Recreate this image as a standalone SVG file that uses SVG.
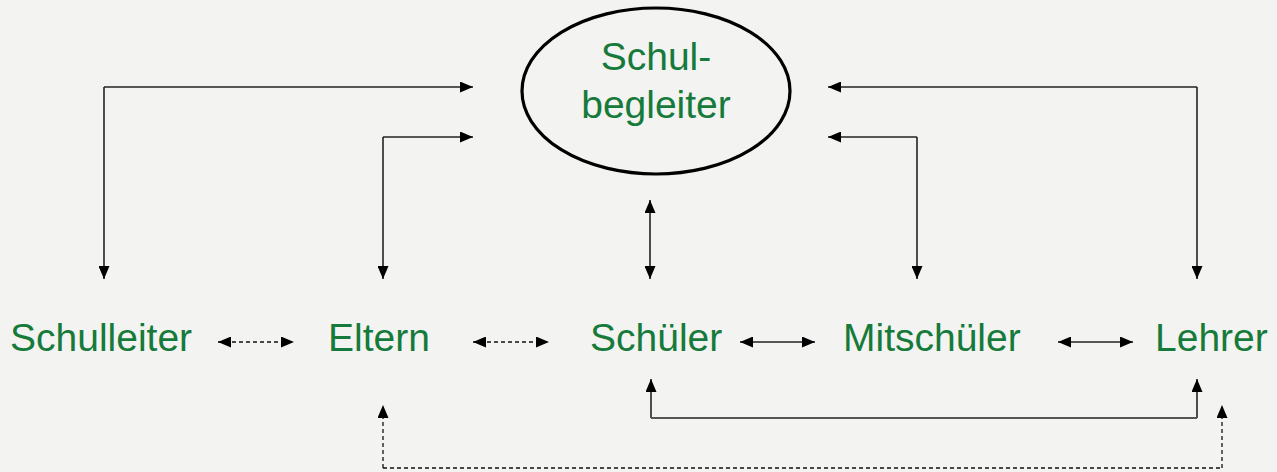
<svg xmlns="http://www.w3.org/2000/svg" width="1277" height="472" viewBox="0 0 1277 472">
  <defs>
    <marker id="ah" markerUnits="userSpaceOnUse" markerWidth="13" markerHeight="11" refX="13" refY="5.5" orient="auto-start-reverse">
      <path d="M0,0 L13,5.5 L0,11 z" fill="#000"/>
    </marker>
  </defs>
  <style>
    .lbl { font-family: "Liberation Sans", Arial, sans-serif; font-size: 39px; fill: #157a3a; }
    .c { fill: none; stroke: #222; stroke-width: 1.6; }
    .d { fill: none; stroke: #111; stroke-width: 1.3; stroke-dasharray: 4 3; }
  </style>
  <rect width="1277" height="472" fill="#f3f3f1"/>

  <g id="connectors">
    <path class="c" d="M104,87 H473" marker-end="url(#ah)"/>
    <path class="c" d="M104,87 V279" marker-end="url(#ah)"/>
    <path class="c" d="M383,137 H473" marker-end="url(#ah)"/>
    <path class="c" d="M383,137 V279" marker-end="url(#ah)"/>
    <path class="c" d="M1197,87 H828" marker-end="url(#ah)"/>
    <path class="c" d="M1197,87 V279" marker-end="url(#ah)"/>
    <path class="c" d="M917,137 H828" marker-end="url(#ah)"/>
    <path class="c" d="M917,137 V279" marker-end="url(#ah)"/>
    <path class="c" d="M650,200 V279" marker-start="url(#ah)" marker-end="url(#ah)"/>

    <path class="d" d="M218,342 H294" marker-start="url(#ah)" marker-end="url(#ah)"/>
    <path class="d" d="M473,342 H549" marker-start="url(#ah)" marker-end="url(#ah)"/>
    <path class="c" d="M740,342 H815" marker-start="url(#ah)" marker-end="url(#ah)"/>
    <path class="c" d="M1058,342 H1133" marker-start="url(#ah)" marker-end="url(#ah)"/>

    <path class="c" d="M651,418 V379" marker-end="url(#ah)"/>
    <path class="c" d="M1197,418 V379" marker-end="url(#ah)"/>
    <path class="c" d="M651,418 H1197" style="stroke:#555;stroke-width:2"/>

    <path class="d" d="M383,468 V405" marker-end="url(#ah)"/>
    <path class="d" d="M1222,468 V405" marker-end="url(#ah)"/>
    <path class="d" d="M383,468 H1222"/>
  </g>

  <g id="schulbegleiter">
    <ellipse cx="656" cy="91" rx="134" ry="83" fill="none" stroke="#000" stroke-width="3.2"/>
    <text class="lbl" x="656" y="70" text-anchor="middle">Schul-</text>
    <text class="lbl" x="656" y="118" text-anchor="middle">begleiter</text>
  </g>
  <g id="schulleiter"><text class="lbl" x="10" y="351">Schulleiter</text></g>
  <g id="eltern"><text class="lbl" x="328" y="351">Eltern</text></g>
  <g id="schueler"><text class="lbl" x="590" y="351">Schüler</text></g>
  <g id="mitschueler"><text class="lbl" x="843" y="351">Mitschüler</text></g>
  <g id="lehrer"><text class="lbl" x="1155" y="351">Lehrer</text></g>
</svg>
